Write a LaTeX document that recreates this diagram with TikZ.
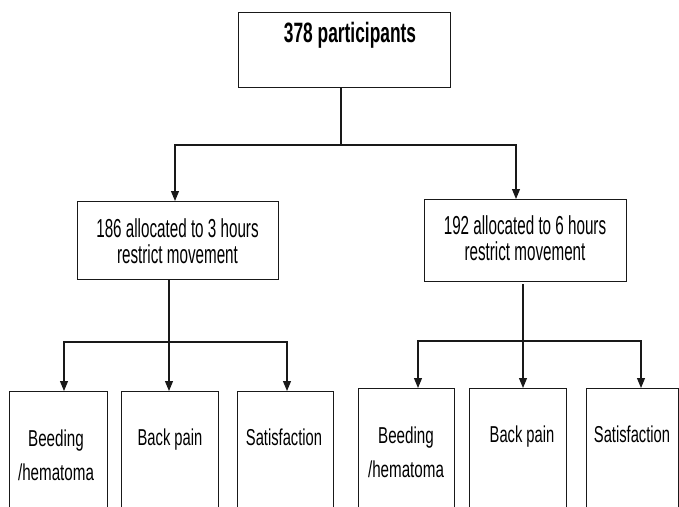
\documentclass[tikz,border=0pt]{standalone}
\usepackage{fontspec}
\usepackage{graphicx}
\setmainfont{Liberation Sans}
\usetikzlibrary{arrows.meta}
\newcommand{\sqz}[2]{\scalebox{#1}[1]{#2}}
\newcommand{\twolines}[2]{\begin{tabular}{@{}c@{}}#1\\#2\end{tabular}}
\newcommand{\dropby}[2]{\raisebox{-#1}[\height][\depth]{#2}}
\begin{document}
\begin{tikzpicture}[x=1pt,y=-1pt,
  box/.style={draw=black!90, line width=0.9pt, inner sep=0pt, outer sep=0pt},
  conn/.style={draw=black!90, line width=1.1pt},
  arr/.style={conn, -{Triangle[length=10pt,width=8pt]}},
  toptxt/.style={font=\bfseries\fontsize{28}{28}\selectfont},
  midtxt/.style={font=\fontsize{26}{25}\selectfont},
  lowtxt/.style={anchor=north, inner sep=0pt, font=\fontsize{23}{34}\selectfont}
]
\useasboundingbox (0,0) rectangle (679,506);
\clip (0,0) rectangle (679,506);

% top box
\node[box, toptxt, anchor=north, minimum width=212pt, text height=30pt, text depth=45pt] (top) at (344,12) {\hspace*{12pt}\sqz{0.62}{378 participants}};

% middle boxes
\node[box, midtxt, minimum width=201pt, minimum height=78pt] (m1) at (177.5,240) {\dropby{5pt}{\sqz{0.585}{\twolines{186 allocated to 3 hours}{restrict movement}}}};
\node[box, midtxt, minimum width=202pt, minimum height=82pt] (m2) at (525,240) {\dropby{2pt}{\sqz{0.585}{\twolines{192 allocated to 6 hours}{restrict movement}}}};

% bottom boxes (left group)
\node[box, anchor=north, minimum width=98pt, minimum height=140pt] (b1) at (58,391) {};
\node[box, anchor=north, minimum width=97pt, minimum height=140pt] (b2) at (169.5,391) {};
\node[box, anchor=north, minimum width=96pt, minimum height=140pt] (b3) at (285,391) {};
% bottom boxes (right group)
\node[box, anchor=north, minimum width=96pt, minimum height=140pt] (b4) at (406,388) {};
\node[box, anchor=north, minimum width=97pt, minimum height=140pt] (b5) at (517.5,388) {};
\node[box, anchor=north, minimum width=92pt, minimum height=140pt] (b6) at (632,388) {};

% bottom texts
\node[lowtxt] (t1) at (56,422) {\sqz{0.66}{\twolines{Beeding}{/hematoma}}};
\node[lowtxt] (t2) at (170,429) {\sqz{0.64}{Back pain}};
\node[lowtxt] (t3) at (284,429) {\sqz{0.64}{Satisfaction}};
\node[lowtxt] (t4) at (406,419) {\sqz{0.66}{\twolines{Beeding}{/hematoma}}};
\node[lowtxt] (t5) at (522,426) {\sqz{0.64}{Back pain}};
\node[lowtxt] (t6) at (632,426) {\sqz{0.64}{Satisfaction}};

% connectors from top
\coordinate (j1) at (341,145);
\draw[conn] (top.south -| j1) -- (j1);
\draw[arr] (j1) -| ([xshift=-2.5pt]m1.north);
\draw[arr] (j1) -| ([xshift=-9pt]m2.north);

% left group
\coordinate (j2) at (169,342);
\draw[conn] (m1.south -| j2) -- (j2);
\draw[arr] (j2) -| ([xshift=6pt]b1.north);
\draw[arr] (j2) -- (j2 |- b2.north);
\draw[arr] (j2) -| ([xshift=2pt]b3.north);

% right group
\coordinate (j3) at (523,341);
\draw[conn] ([yshift=-3pt]m2.south -| j3) -- (j3);
\draw[arr] (j3) -| ([xshift=12pt]b4.north);
\draw[arr] (j3) -- (j3 |- b5.north);
\draw[arr] (j3) -| ([xshift=9pt]b6.north);
\end{tikzpicture}
\end{document}
